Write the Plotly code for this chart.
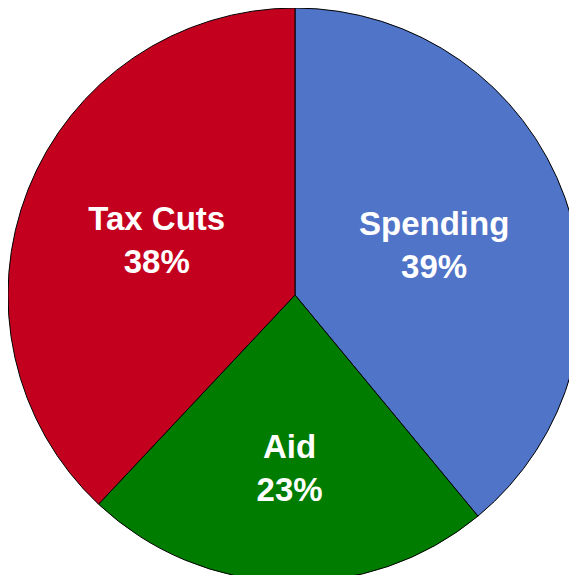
import plotly.graph_objects as go

categories = ["Spending", "Aid", "Tax Cuts"]
shares = [39, 23, 38]
slice_colors = ["#4F74C8", "#007C00", "#C4001F"]

fig = go.Figure(
    go.Pie(
        labels=categories,
        values=shares,
        sort=False,
        direction="clockwise",
        rotation=0,
        marker=dict(colors=slice_colors, line=dict(color="black", width=1)),
        texttemplate="%{label}<br>%{percent:.0%}",
        textposition="inside",
        insidetextorientation="horizontal",
        textfont=dict(family="Liberation Sans, Arial, sans-serif", size=33, color="white", weight="bold"),
        domain=dict(x=[0, 574 / 577], y=[1 - 574 / 575, 1]),
        showlegend=False,
        hoverinfo="label+percent",
    )
)

fig.update_layout(
    width=577,
    height=575,
    margin=dict(l=0, r=0, t=0, b=0),
    paper_bgcolor="white",
    plot_bgcolor="white",
    showlegend=False,
)

fig.write_html(
    "out.html",
    post_script="document.documentElement.style.overflow='hidden';document.body.style.overflow='hidden';",
)
